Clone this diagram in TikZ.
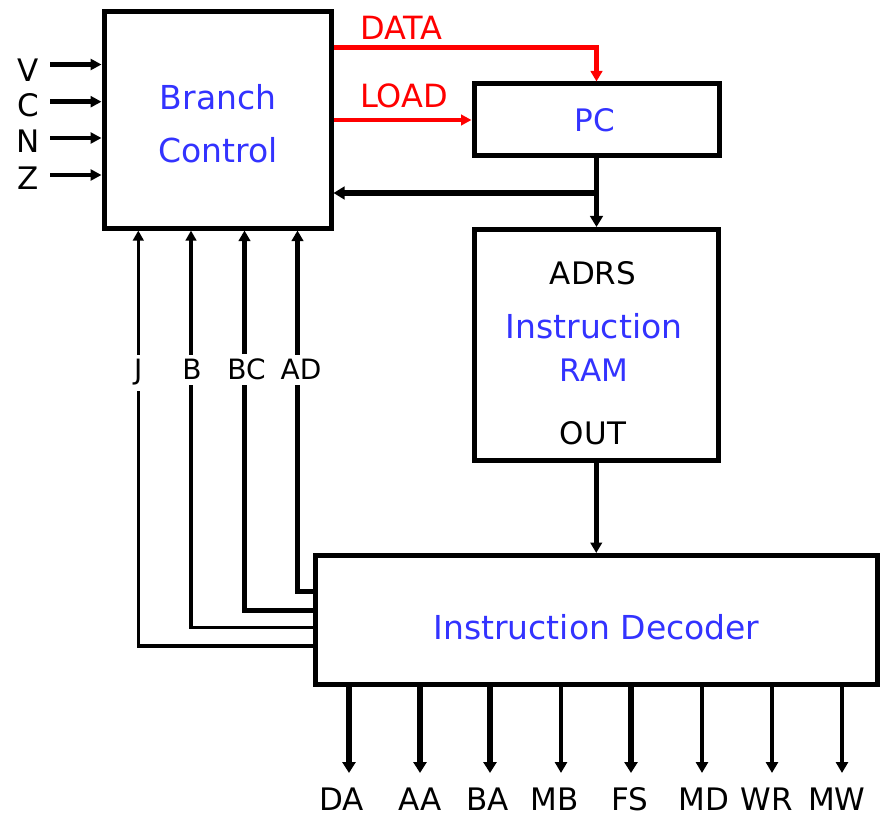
\documentclass[tikz,border=0pt]{standalone}
\usepackage{fontspec}
\setmainfont{DejaVu Sans}
\usetikzlibrary{arrows.meta}
\definecolor{tblue}{RGB}{51,51,255}
\definecolor{tred}{RGB}{255,0,0}
\begin{document}
\begin{tikzpicture}[x=1pt,y=-1pt,
  box/.style={draw, line width=5pt, inner sep=0pt, fill=white},
  big/.style={font=\fontsize{33}{40}\selectfont, text=tblue, anchor=base, inner sep=0pt},
  lab/.style={font=\fontsize{31}{37}\selectfont, anchor=base, inner sep=0pt},
  sig/.style={font=\fontsize{28}{34}\selectfont, anchor=base, fill=white, inner xsep=1pt, inner ysep=5pt},
  inarr/.style={line width=4.5pt, -{Triangle[length=11pt,width=11pt]}},
  thk/.style={line width=5.8pt, -{Triangle[length=11pt,width=12.5pt]}},
  mid/.style={line width=5pt, -{Triangle[length=10.5pt,width=11.5pt]}},
  thn/.style={line width=3.6pt, -{Triangle[length=10pt,width=10.5pt]}},
  othk/.style={line width=6.2pt, -{Triangle[length=11pt,width=13pt]}},
  othn/.style={line width=4.3pt, -{Triangle[length=11pt,width=12pt]}}]
\useasboundingbox (0,0) rectangle (887,818);

% boxes
\node[box, minimum width=227pt, minimum height=216.3pt] (bc) at (217.5,119.9) {};
\node[box, minimum width=245pt, minimum height=72pt] (pc) at (596.5,120) {};
\node[box, minimum width=244.5pt, minimum height=231.5pt] (ram) at (596.25,345.25) {};
\node[box, minimum width=562pt, minimum height=128.5pt] (dec) at (596,619.75) {};

% box texts
\node[big] (tbr) at (218,109.3) {Branch};
\node[big] (tco) at (218,163) {Control};
\node[big, font=\fontsize{31}{37}\selectfont] (tpc) at (595,131.7) {PC};
\node[lab] (tadrs) at (593,285) {ADRS};
\node[big] (tins) at (594,339) {Instruction};
\node[big, font=\fontsize{31}{37}\selectfont] (tram) at (594,382) {RAM};
\node[lab] (tout) at (593,445) {OUT};
\node[big] (tdec) at (596.5,639.5) {Instruction Decoder};

% inputs
\coordinate (cv) at (50,64.5);
\coordinate (cc) at (50,101.7);
\coordinate (cn) at (50,138);
\coordinate (cz) at (50,175);
\draw[inarr] (cv) -- (cv -| bc.west);
\draw[inarr] (cc) -- (cc -| bc.west);
\draw[inarr] (cn) -- (cn -| bc.west);
\draw[inarr] (cz) -- (cz -| bc.west);
\node[lab] (lv) at (28,82) {V};
\node[lab] (lc) at (28,117) {C};
\node[lab] (ln) at (28,153) {N};
\node[lab] (lz) at (28,190) {Z};

% DATA / LOAD
\coordinate (dy) at (0,47.5);
\draw[tred, line width=5.2pt, -{Triangle[length=10.5pt,width=11.5pt]}] (bc.east |- dy) -| (pc.north);
\draw[tred, line width=4.2pt, -{Triangle[length=10.5pt,width=10.5pt]}] (bc.east |- pc.west) -- (pc.west);
\node[lab, anchor=base west, text=tred, font=\fontsize{32}{38}\selectfont] (ldata) at (360,39.3) {DATA};
\node[lab, anchor=base west, text=tred, font=\fontsize{32}{38}\selectfont] (lload) at (360,108) {LOAD};

% PC feedback
\coordinate (fb) at (0,193);
\draw[thk] (pc.south) -- (pc.south |- ram.north);
\draw[thk] (pc.south |- fb) -- (bc.east |- fb);

% RAM to decoder
\draw[mid] (ram.south) -- (ram.south |- dec.north);

% decoder to branch control
\coordinate (jy) at (0,646);   \coordinate (jx) at (138.3,0);
\coordinate (by) at (0,627.5); \coordinate (bx) at (191,0);
\coordinate (cy) at (0,610);   \coordinate (cx) at (244.5,0);
\coordinate (ay) at (0,591.7); \coordinate (ax) at (297.5,0);
\draw[thn] (dec.west |- jy) -| (jx |- bc.south);
\draw[thn] (dec.west |- by) -| (bx |- bc.south);
\draw[mid] (dec.west |- cy) -| (cx |- bc.south);
\draw[mid] (dec.west |- ay) -| (ax |- bc.south);
\node[sig] (lj) at (138.3,380) {J};
\node[sig] (lb) at (192,380) {B};
\node[sig] (lbc) at (246.5,380) {BC};
\node[sig] (lad) at (301,380) {AD};

% outputs
\coordinate (o1) at (349,773);
\coordinate (o2) at (420,773);
\coordinate (o3) at (490,773);
\coordinate (o4) at (561,773);
\coordinate (o5) at (631,773);
\coordinate (o6) at (702,773);
\coordinate (o7) at (772,773);
\coordinate (o8) at (842,773);
\draw[othk] (dec.south -| o1) -- (o1);
\draw[othk] (dec.south -| o2) -- (o2);
\draw[othk] (dec.south -| o3) -- (o3);
\draw[othn] (dec.south -| o4) -- (o4);
\draw[othk] (dec.south -| o5) -- (o5);
\draw[othn] (dec.south -| o6) -- (o6);
\draw[othn] (dec.south -| o7) -- (o7);
\draw[othn] (dec.south -| o8) -- (o8);
\node[lab] (lda) at (341.7,810.5) {DA};
\node[lab] (laa) at (420,810.5) {AA};
\node[lab] (lba) at (487.5,810.5) {BA};
\node[lab] (lmb) at (555,810.5) {MB};
\node[lab] (lfs) at (630,810.5) {FS};
\node[lab] (lmd) at (704,810.5) {MD};
\node[lab] (lwr) at (767,810.5) {WR};
\node[lab] (lmw) at (836.7,810.5) {MW};
\end{tikzpicture}
\end{document}
